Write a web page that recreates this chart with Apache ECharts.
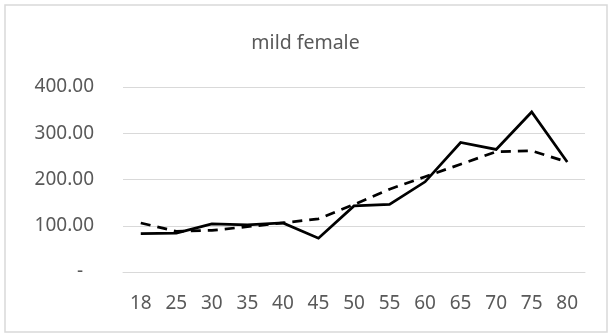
<!DOCTYPE html>
<html>
<head>
<meta charset="utf-8">
<script src="https://cdn.jsdelivr.net/npm/echarts@6/dist/echarts.min.js"></script>
<style>
  html, body { margin: 0; padding: 0; background: #fff; }
  #chart { width: 611px; height: 335px; }
</style>
</head>
<body>
<div id="chart"></div>
<script>
// Age groups along the x axis
const ages = ['18', '25', '30', '35', '40', '45', '50', '55', '60', '65', '70', '75', '80'];
// Observed values (solid line)
const observed = [83, 84, 104, 102, 106, 73, 143, 146, 195, 280, 265, 346, 238];
// Smoothed trend (dashed line)
const trend = [106, 88, 90, 98, 106, 115, 146, 179, 206, 233, 260, 262, 238];
// Value axis ticks
const yMin = 0, yMax = 400, yStep = 100;

const textColor = '#595959';
const fontFamily = '"Noto Sans", "Open Sans", sans-serif';

const chart = echarts.init(document.getElementById('chart'), null, { renderer: 'canvas' });
chart.setOption({
  animation: false,
  backgroundColor: '#fff',
  title: {
    text: 'mild female',
    left: 'center',
    top: 28,
    textStyle: { color: textColor, fontSize: 19.5, fontWeight: 'normal', fontFamily }
  },
  graphic: [{
    type: 'rect',
    shape: { x: 5, y: 5, width: 602, height: 327 },
    style: { fill: 'none', stroke: '#d9d9d9', lineWidth: 1.5 },
    silent: true
  }],
  grid: { left: 123, right: 26, top: 87, bottom: 63 },
  xAxis: {
    type: 'category',
    data: ages,
    boundaryGap: true,
    axisLine: { show: true, lineStyle: { color: '#d9d9d9', width: 1 } },
    axisTick: { show: false },
    axisLabel: { color: textColor, fontSize: 19, fontFamily, margin: 22, interval: 0 }
  },
  yAxis: {
    type: 'value',
    min: yMin,
    max: yMax,
    interval: yStep,
    axisLine: { show: false },
    axisTick: { show: false },
    splitLine: { lineStyle: { color: '#d9d9d9', width: 1 } },
    axisLabel: {
      color: textColor,
      fontSize: 19,
      fontFamily,
      margin: 29,
      formatter: v => v === 0 ? '{z|-}' : v.toFixed(2),
      rich: { z: { color: textColor, fontSize: 19, fontFamily, padding: [0, 11, 0, 0] } }
    }
  },
  series: [
    {
      type: 'line',
      data: observed,
      symbol: 'none',
      lineStyle: { color: '#000', width: 2.75, join: 'miter' },
      z: 3
    },
    {
      type: 'line',
      data: trend,
      symbol: 'none',
      lineStyle: { color: '#000', width: 2.75, type: [10, 7] },
      z: 2
    }
  ]
});
</script>
</body>
</html>
